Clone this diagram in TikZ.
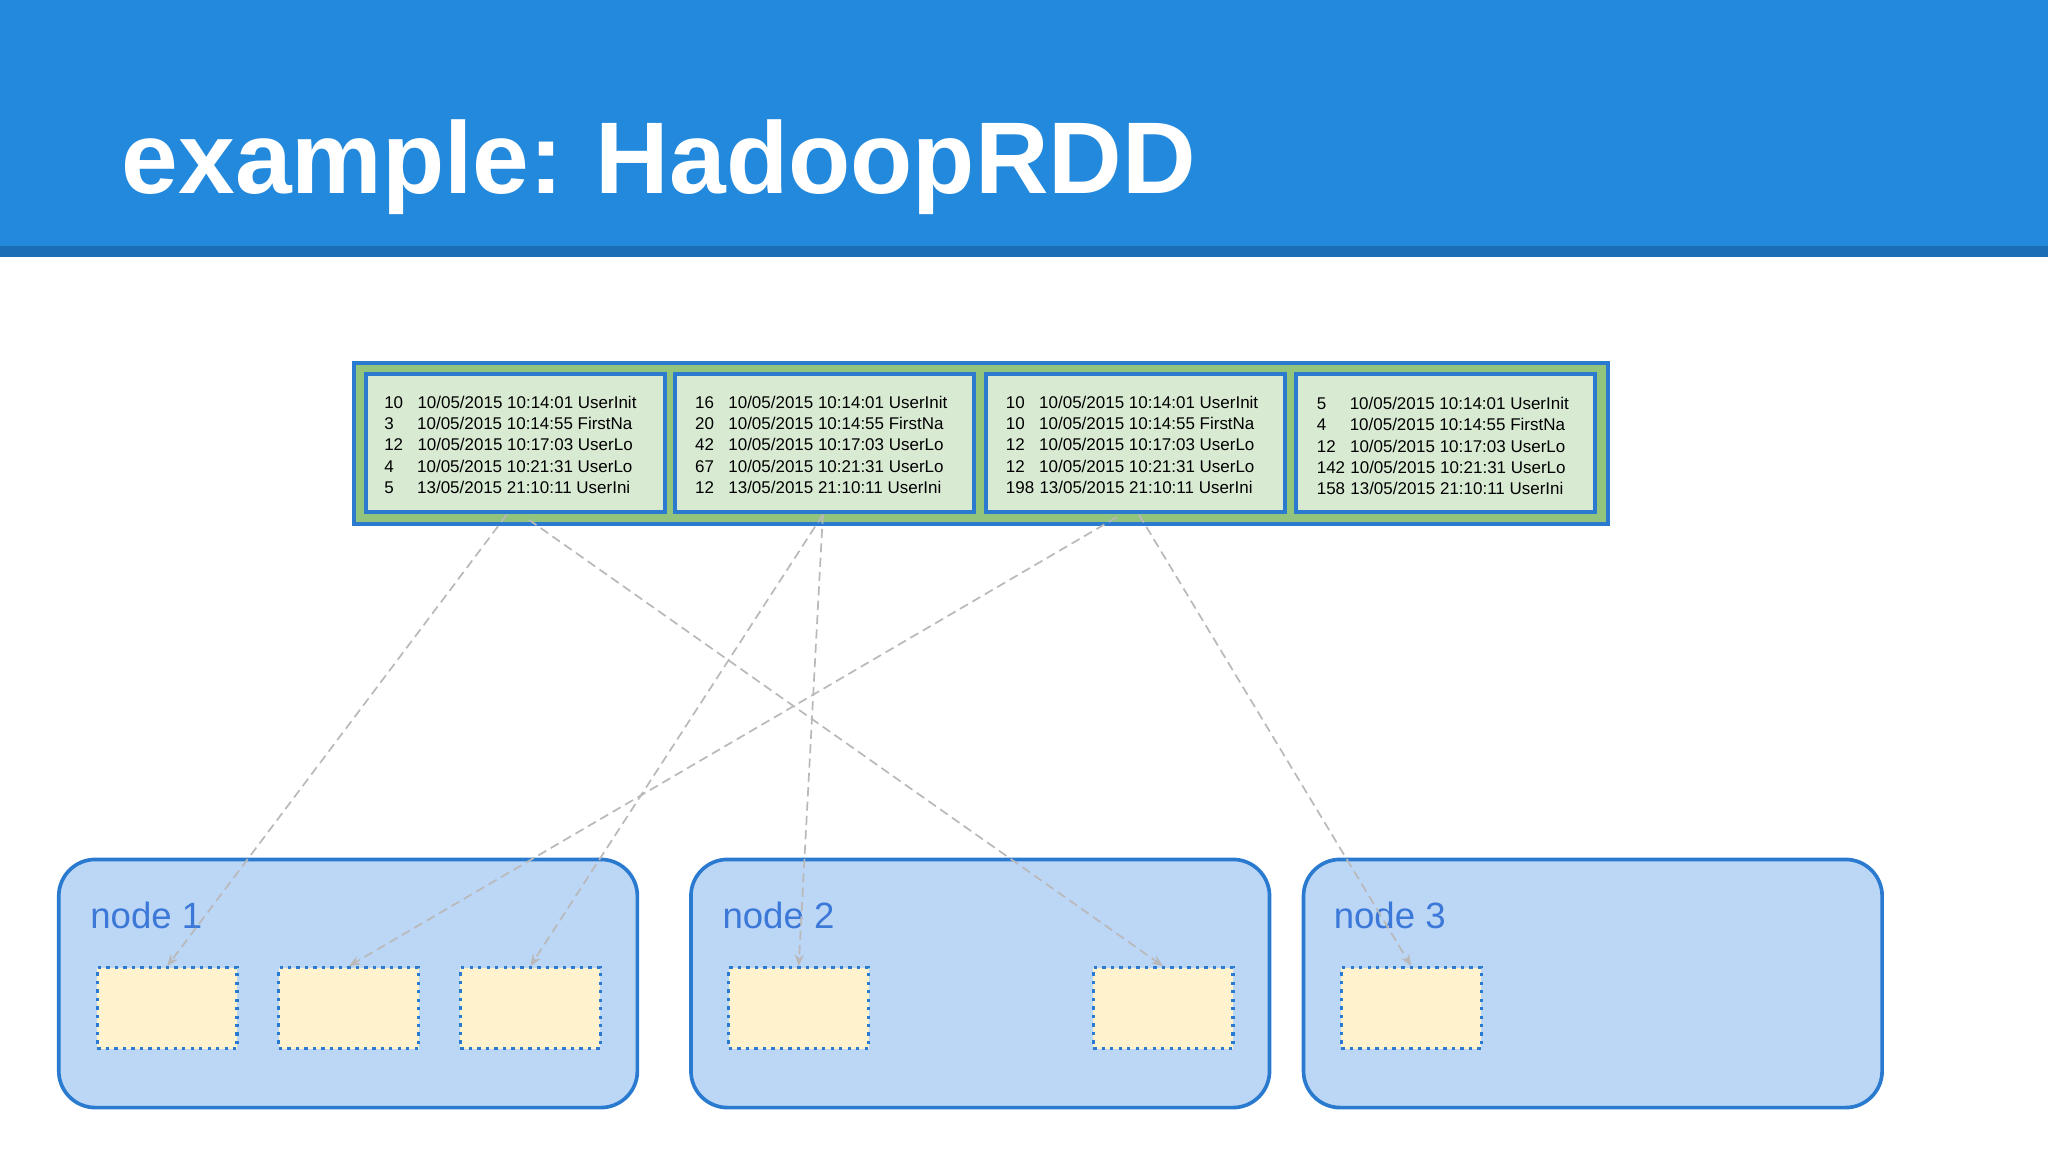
\documentclass[tikz,border=0pt]{standalone}
\usepackage{fontspec}
\setmainfont{Liberation Sans}
\usetikzlibrary{arrows.meta}
\definecolor{topblue}{HTML}{2389DC}
\definecolor{stripblue}{HTML}{1B6DB5}
\definecolor{bord}{HTML}{2A7BD0}
\definecolor{grn}{HTML}{93C47D}
\definecolor{lgrn}{HTML}{D9EAD3}
\definecolor{nodefill}{HTML}{BCD6F6}
\definecolor{yel}{HTML}{FFF2CC}
\definecolor{lbl}{HTML}{3C78D8}
\tikzset{
 part/.style={draw=bord,line width=3pt,fill=lgrn,minimum width=229pt,minimum height=106pt,inner sep=0pt},
 mach/.style={draw=bord,line width=2.8pt,fill=nodefill,rounded corners=28pt,minimum width=443pt,minimum height=190pt,inner sep=0pt},
 blk/.style={draw=bord,line width=2.5pt,dash pattern=on 2.5pt off 4pt,fill=yel,minimum width=107pt,minimum height=62pt,inner sep=0pt},
 mlabel/.style={text=lbl,font=\fontsize{28}{30}\selectfont,anchor=base west,inner sep=0pt},
 link/.style={draw=gray!55,line width=1.3pt,dash pattern=on 7pt off 4pt,-{Stealth[length=9pt,width=7pt]}},
 rows/.style={font=\fontsize{13}{16.3}\selectfont,align=left,anchor=north west,inner sep=0pt}
}
\begin{document}
\begin{tikzpicture}[x=1pt,y=-1pt]
\useasboundingbox (0,0) rectangle (1568,882);
\fill[white] (0,0) rectangle (1568,882);
\fill[topblue] (0,0) rectangle (1568,188);
\fill[stripblue] (0,188) rectangle (1568,197);
\node[anchor=base west,text=white,inner sep=0pt,font=\bfseries\fontsize{78}{90}\selectfont] (title) at (93,148) {example:\hspace{-4pt} HadoopRDD};
\node[draw=bord,line width=3pt,fill=grn,minimum width=960pt,minimum height=123pt,inner sep=0pt] (rdd) at (751,339.5) {};
\node[part] (p1) at (394.5,339) {};
\node[part] (p2) at (631.5,339) {};
\node[part] (p3) at (869.5,339) {};
\node[part] (p4) at (1107,339) {};
\node[rows] (t1) at (294,303) {10\hspace{11pt}10/05/2015 10:14:01 UserInit\\3\hspace{18pt}10/05/2015 10:14:55 FirstNa\\12\hspace{11pt}10/05/2015 10:17:03 UserLo\\4\hspace{18pt}10/05/2015 10:21:31 UserLo\\5\hspace{18pt}13/05/2015 21:10:11 UserIni};
\node[rows] (t2) at (532,303) {16\hspace{11pt}10/05/2015 10:14:01 UserInit\\20\hspace{11pt}10/05/2015 10:14:55 FirstNa\\42\hspace{11pt}10/05/2015 10:17:03 UserLo\\67\hspace{11pt}10/05/2015 10:21:31 UserLo\\12\hspace{11pt}13/05/2015 21:10:11 UserIni};
\node[rows] (t3) at (770,303) {10\hspace{11pt}10/05/2015 10:14:01 UserInit\\10\hspace{11pt}10/05/2015 10:14:55 FirstNa\\12\hspace{11pt}10/05/2015 10:17:03 UserLo\\12\hspace{11pt}10/05/2015 10:21:31 UserLo\\198\hspace{4pt}13/05/2015 21:10:11 UserIni};
\node[rows] (t4) at (1008,304) {5\hspace{18pt}10/05/2015 10:14:01 UserInit\\4\hspace{18pt}10/05/2015 10:14:55 FirstNa\\12\hspace{11pt}10/05/2015 10:17:03 UserLo\\142\hspace{4pt}10/05/2015 10:21:31 UserLo\\158\hspace{4pt}13/05/2015 21:10:11 UserIni};
\node[mach] (n1) at (266.5,753) {};
\node[mach] (n2) at (750.5,753) {};
\node[mach] (n3) at (1219.5,753) {};
\node[mlabel] (l1) at (69,711) {node 1};
\node[mlabel] (l2) at (553,711) {node 2};
\node[mlabel] (l3) at (1021,711) {node 3};
\node[blk] (b11) at (128,772) {};
\node[blk] (b12) at (267,772) {};
\node[blk] (b13) at (406,772) {};
\node[blk] (b21) at (611.5,772) {};
\node[blk] (b22) at (890.5,772) {};
\node[blk] (b31) at (1080.5,772) {};
\coordinate (s1a) at (388,394);
\coordinate (s1b) at (405,398);
\coordinate (s2) at (630,394);
\coordinate (s3a) at (855,396);
\coordinate (s3b) at (872,394);
\draw[link] (s1a) -- (b11.north);
\draw[link] (s1b) -- (b22.north);
\draw[link] (s2) -- (b13.north);
\draw[link] (s2) -- (b21.north);
\draw[link] (s3a) -- (b12.north);
\draw[link] (s3b) -- (b31.north);
\end{tikzpicture}
\end{document}
